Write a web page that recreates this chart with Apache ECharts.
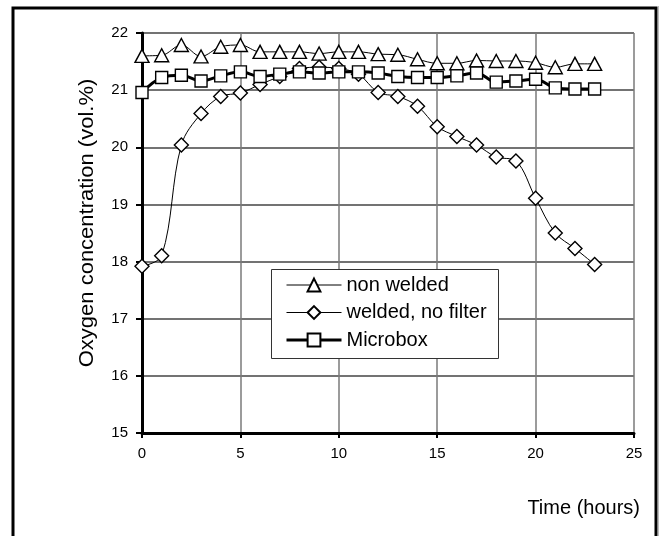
<!DOCTYPE html>
<html>
<head>
<meta charset="utf-8">
<script src="https://cdn.jsdelivr.net/npm/echarts@6/dist/echarts.min.js"></script>
<style>
  html, body { margin: 0; padding: 0; background: #fff; }
  #chart { width: 662px; height: 536px; }
</style>
</head>
<body>
<div id="chart"></div>
<script>
// Sampling times (hours)
const hours = [0, 1, 2, 3, 4, 5, 6, 7, 8, 9, 10, 11, 12, 13, 14, 15, 16, 17, 18, 19, 20, 21, 22, 23];

// Oxygen concentration (vol.%) for each configuration
const nonWelded = [21.60, 21.61, 21.79, 21.59, 21.76, 21.79, 21.67, 21.67, 21.67, 21.64, 21.67, 21.67,
                   21.63, 21.62, 21.54, 21.47, 21.47, 21.52, 21.51, 21.51, 21.48, 21.40, 21.46, 21.46];
const weldedNoFilter = [17.92, 18.10, 20.04, 20.59, 20.89, 20.95, 21.10, 21.24, 21.38, 21.40, 21.38, 21.28,
                        20.96, 20.89, 20.72, 20.36, 20.19, 20.04, 19.83, 19.76, 19.11, 18.50, 18.23, 17.95];
const microbox = [20.96, 21.22, 21.26, 21.16, 21.25, 21.32, 21.24, 21.28, 21.32, 21.30, 21.32, 21.32,
                  21.30, 21.24, 21.22, 21.22, 21.25, 21.30, 21.14, 21.16, 21.19, 21.04, 21.02, 21.02];

const seriesNames = ['non welded', 'welded, no filter', 'Microbox'];
const lineWidths = [1, 1, 3];
const xTicks = { min: 0, max: 25, interval: 5 };
const yTicks = { min: 15, max: 22, interval: 1 };

const FONT = '"Liberation Sans", Arial, Helvetica, sans-serif';

function pairs(values) {
  return hours.map((h, i) => [h, values[i]]);
}

function lineSeries(name, values, symbol, symbolSize, width) {
  return {
    name: name,
    type: 'line',
    data: pairs(values),
    smooth: 0.35,
    symbol: symbol,
    symbolSize: symbolSize,
    showAllSymbol: true,
    lineStyle: { color: '#000', width: width },
    itemStyle: { color: '#fff', borderColor: '#000', borderWidth: 1.4 },
    emphasis: { disabled: true },
    animation: false,
    z: 2
  };
}

const chart = echarts.init(document.getElementById('chart'), null, { renderer: 'canvas' });

chart.setOption({
  animation: false,
  backgroundColor: '#fff',
  grid: { left: 142, right: 28, top: 33, bottom: 103 },
  xAxis: {
    type: 'value',
    min: xTicks.min, max: xTicks.max, interval: xTicks.interval,
    axisLine: { show: true, onZero: false, lineStyle: { color: '#000', width: 3 } },
    axisTick: { show: true, length: 5, lineStyle: { color: '#000', width: 2 } },
    axisLabel: { color: '#000', fontSize: 15, fontFamily: FONT, margin: 13 },
    splitLine: { show: true, lineStyle: { color: '#7a7a7a', width: 1.5 } }
  },
  yAxis: {
    type: 'value',
    min: yTicks.min, max: yTicks.max, interval: yTicks.interval,
    axisLine: { show: true, onZero: false, lineStyle: { color: '#000', width: 3 } },
    axisTick: { show: true, length: 6, lineStyle: { color: '#000', width: 2 } },
    axisLabel: { color: '#000', fontSize: 15, fontFamily: FONT, margin: 14 },
    splitLine: { show: true, lineStyle: { color: '#444', width: 1.5 } }
  },
  legend: {
    show: true,
    data: seriesNames.map((name, i) => ({
      name: name,
      lineStyle: { width: lineWidths[i], color: '#000' }
    })),
    orient: 'vertical',
    left: 285,
    top: 275,
    padding: 0,
    itemWidth: 55,
    itemHeight: 16,
    itemGap: 7.5,
    textStyle: { color: '#000', fontSize: 20, fontFamily: FONT, lineHeight: 20 },
    selectedMode: false,
    z: 5
  },
  graphic: [
    {
      type: 'rect',
      shape: { x: 13, y: 8, width: 643, height: 545 },
      style: { fill: 'none', stroke: '#000', lineWidth: 3 },
      z: 1
    },
    {
      type: 'line',
      shape: { x1: 658.5, y1: 6, x2: 658.5, y2: 536 },
      style: { stroke: '#bbb', lineWidth: 1 },
      z: 1
    },
    {
      type: 'rect',
      shape: { x: 271.5, y: 269.5, width: 227, height: 89 },
      style: { fill: '#fff', stroke: '#333', lineWidth: 1 },
      z: 4
    },
    {
      type: 'text',
      x: 87,
      y: 223,
      rotation: Math.PI / 2,
      scaleX: 1.1,
      style: {
        text: 'Oxygen concentration (vol.%)',
        fill: '#000',
        font: '20px ' + FONT,
        align: 'center',
        verticalAlign: 'middle'
      },
      z: 4
    },
    {
      type: 'text',
      x: 640,
      y: 508,
      style: {
        text: 'Time (hours)',
        fill: '#000',
        font: '20px ' + FONT,
        align: 'right',
        verticalAlign: 'middle'
      },
      z: 4
    }
  ],
  series: [
    lineSeries(seriesNames[0], nonWelded, 'triangle', [14, 13], lineWidths[0]),
    lineSeries(seriesNames[1], weldedNoFilter, 'diamond', [14, 14], lineWidths[1]),
    lineSeries(seriesNames[2], microbox, 'rect', [12, 12], lineWidths[2])
  ]
});
</script>
</body>
</html>
